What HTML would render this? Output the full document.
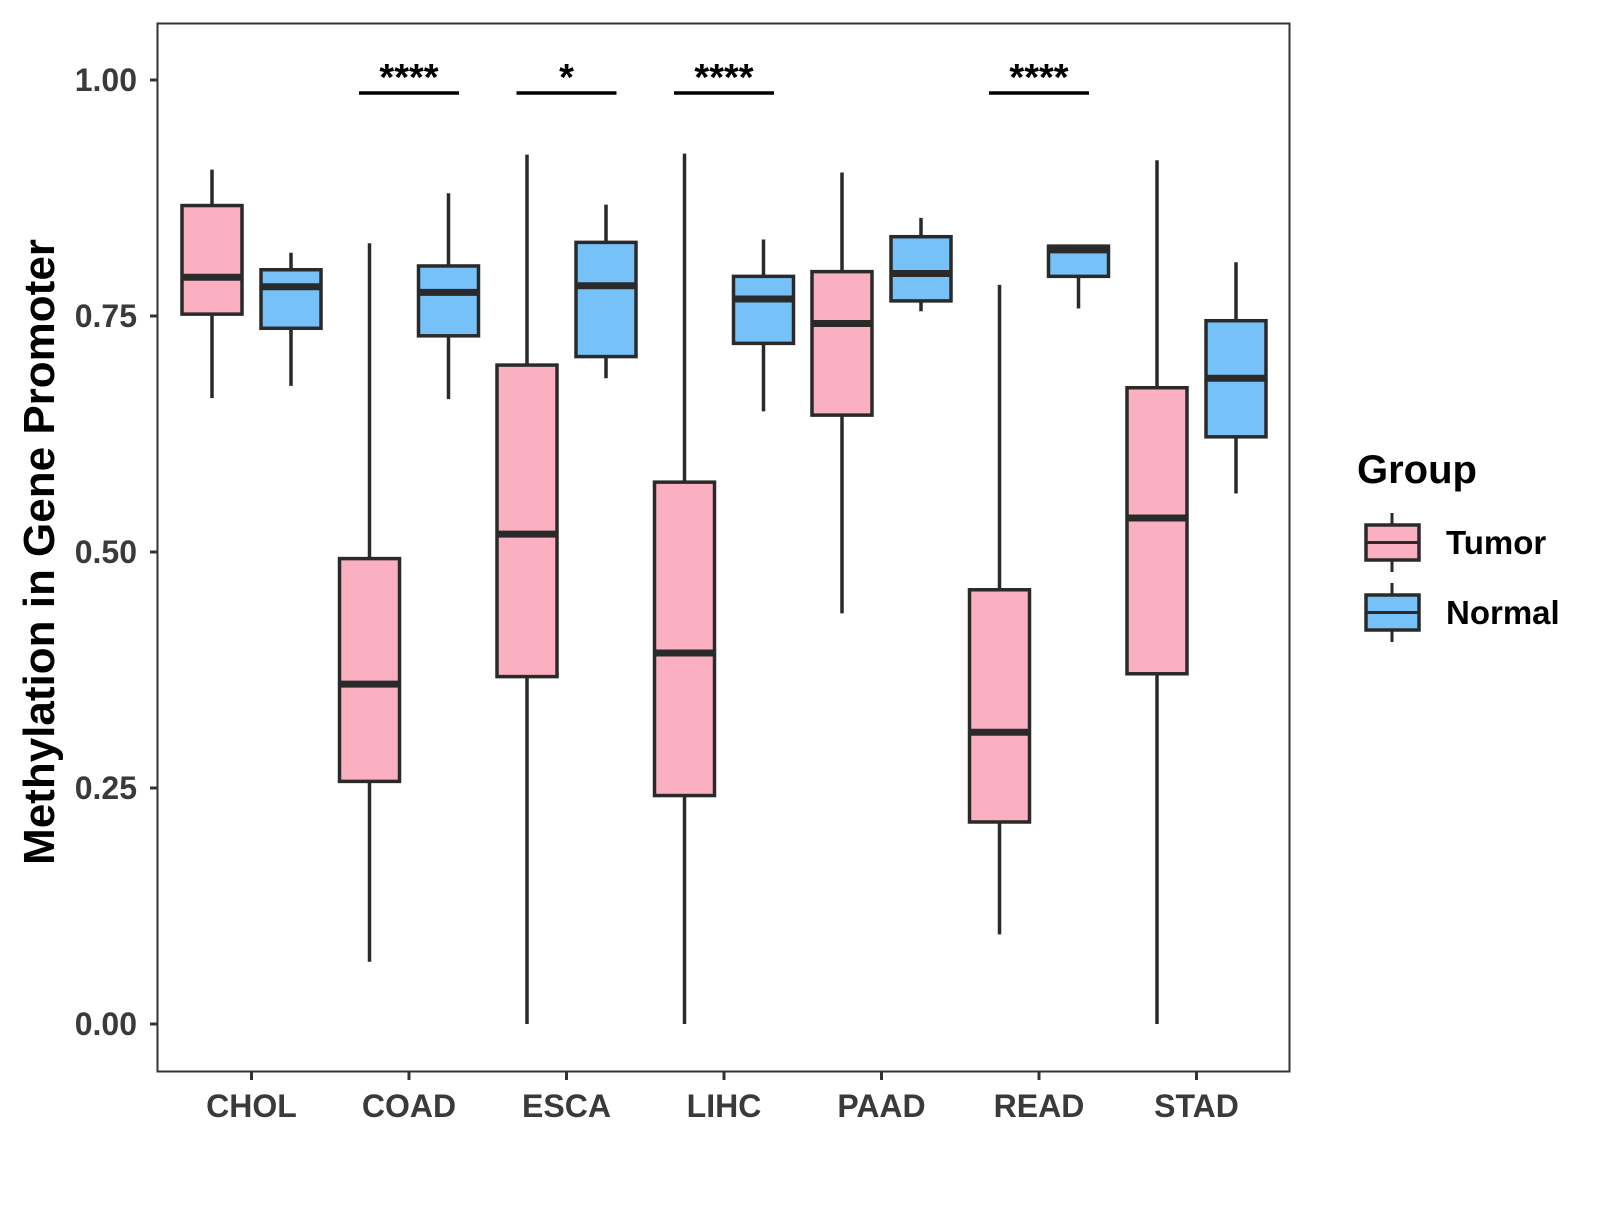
<!DOCTYPE html>
<html><head><meta charset="utf-8"><style>
body{margin:0;background:#fff}
svg text{font-family:"Liberation Sans",Arial,sans-serif;font-weight:bold}
</style></head><body>
<svg id="chart" width="1600" height="1200" xmlns="http://www.w3.org/2000/svg">
<rect x="0" y="0" width="1600" height="1200" fill="#fff"/>
<g id="marks"></g>
<rect x="157.5" y="23.5" width="1132" height="1048" fill="none" stroke="#333" stroke-width="2"/>
<text transform="translate(54,552) rotate(-90)" text-anchor="middle" font-size="44" fill="#000">Methylation in Gene Promoter</text>
<g>
<text x="1357" y="483" font-size="40" fill="#000">Group</text>
</g>
</svg>
<script>
const categories=["CHOL","COAD","ESCA","LIHC","PAAD","READ","STAD"];
const groups=["Tumor","Normal"];
const tumorLow=[0.663,0.066,0,0,0.435,0.095,0];
const tumorQ1=[0.752,0.257,0.368,0.242,0.645,0.214,0.371];
const tumorMed=[0.791,0.360,0.519,0.393,0.742,0.309,0.536];
const tumorQ3=[0.867,0.493,0.698,0.574,0.797,0.460,0.674];
const tumorHigh=[0.905,0.827,0.921,0.922,0.902,0.783,0.915];
const normalLow=[0.676,0.662,0.684,0.649,0.755,0.758,0.562];
const normalQ1=[0.737,0.729,0.707,0.721,0.766,0.792,0.622];
const normalMed=[0.781,0.775,0.782,0.768,0.795,0.820,0.684];
const normalQ3=[0.799,0.803,0.828,0.792,0.834,0.824,0.745];
const normalHigh=[0.817,0.880,0.868,0.831,0.854,0.824,0.807];
const sigLabels=["","****","*","****","","****",""];
const yTicks=[0,0.25,0.5,0.75,1.0];
const yTickLabels=["0.00","0.25","0.50","0.75","1.00"];
const colors={Tumor:"#FBB0C2",Normal:"#76C1F7"};

const NS="http://www.w3.org/2000/svg";
const g=document.getElementById('marks');
function yS(v){return 1024-944*v;}
function xS(i){return 251.5+i*157.5;}
function el(tag,attrs,parent){const e=document.createElementNS(NS,tag);for(const k in attrs)e.setAttribute(k,attrs[k]);(parent||g).appendChild(e);return e;}

yTicks.forEach((t,i)=>{
  const tk=el('line',{x1:150,x2:157,y1:yS(t),y2:yS(t),stroke:'#333','stroke-width':3});
  
  
  const tx=el('text',{x:137,y:yS(t)+11,'text-anchor':'end','font-size':32,fill:'#3a3a3a'});
  tx.textContent=yTickLabels[i];
  
  
});
categories.forEach((c,i)=>{
  const tk=el('line',{x1:xS(i),x2:xS(i),y1:1072,y2:1080,stroke:'#333','stroke-width':3});
  
  
  const tx=el('text',{x:xS(i),y:1117,'text-anchor':'middle','font-size':32,fill:'#3a3a3a'});
  tx.textContent=c;
  
  
});
function box(cx,lo,q1,md,q3,hi,fill,name){
  const w=60;
  const wl=el('line',{x1:cx,x2:cx,y1:yS(hi),y2:yS(lo),stroke:'#2a2a2a','stroke-width':3.5});
  
  
  const r=el('rect',{x:cx-w/2,y:yS(q3),width:w,height:yS(q1)-yS(q3),fill:fill,stroke:'#2a2a2a','stroke-width':3.5});
  
  
  const m=el('line',{x1:cx-w/2,x2:cx+w/2,y1:yS(md),y2:yS(md),stroke:'#2a2a2a','stroke-width':7});
  
  
}
categories.forEach((c,i)=>{
  box(xS(i)-39.5,tumorLow[i],tumorQ1[i],tumorMed[i],tumorQ3[i],tumorHigh[i],colors.Tumor,c.toLowerCase()+'-tumor');
  box(xS(i)+39.5,normalLow[i],normalQ1[i],normalMed[i],normalQ3[i],normalHigh[i],colors.Normal,c.toLowerCase()+'-normal');
  if(sigLabels[i]){
    const b=el('line',{x1:xS(i)-50,x2:xS(i)+50,y1:93,y2:93,stroke:'#000','stroke-width':3.5});
    
    
    const t=el('text',{x:xS(i),y:90,'text-anchor':'middle','font-size':38,fill:'#000'});
    t.textContent=sigLabels[i];
    
    
  }
});
groups.forEach((gr,k)=>{
  const y0=525+k*70, cx=1392;
  const wl=el('line',{x1:cx,x2:cx,y1:y0-12,y2:y0+47,stroke:'#2a2a2a','stroke-width':3});
  
  
  const r=el('rect',{x:1366,y:y0,width:53,height:35,fill:colors[gr],stroke:'#2a2a2a','stroke-width':3.5});
  
  
  const m=el('line',{x1:1366,x2:1419,y1:y0+17.5,y2:y0+17.5,stroke:'#2a2a2a','stroke-width':3});
  
  
  const t=el('text',{x:1446,y:y0+29,'font-size':33,fill:'#000'});
  t.textContent=gr;
  
  
});
</script>
</body></html>
